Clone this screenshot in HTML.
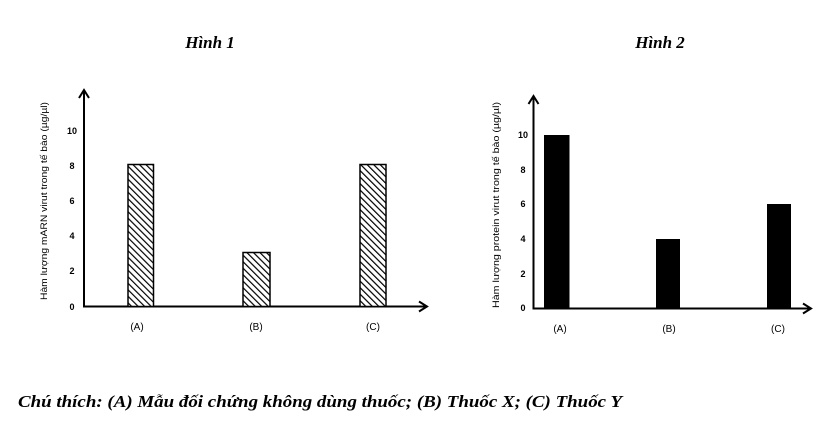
<!DOCTYPE html>
<html><head><meta charset="utf-8">
<style>
html,body{margin:0;padding:0;background:#fff;}
svg{display:block;}
</style></head>
<body>
<svg width="826" height="435" viewBox="0 0 826 435" xmlns="http://www.w3.org/2000/svg">
<defs>
<pattern id="hatch" patternUnits="userSpaceOnUse" width="4.6" height="4.6" patternTransform="rotate(-45)">
<rect width="4.6" height="4.6" fill="#fff"/>
<line x1="0" y1="0" x2="0" y2="4.6" stroke="#000" stroke-width="2.4"/>
</pattern>
</defs>
<rect width="826" height="435" fill="#fff"/>

<!-- Titles -->
<text x="210" y="48" font-family="Liberation Serif, serif" font-weight="bold" font-style="italic" font-size="17" text-anchor="middle">Hình 1</text>
<text x="660" y="48" font-family="Liberation Serif, serif" font-weight="bold" font-style="italic" font-size="17" text-anchor="middle">Hình 2</text>

<!-- Chart 1 -->
<g font-family="Liberation Sans, sans-serif" fill="#000">
<line x1="84" y1="90" x2="84" y2="307" stroke="#000" stroke-width="2"/>
<polyline points="79,98 84,90 89,98" fill="none" stroke="#000" stroke-width="2"/>
<line x1="83" y1="306.5" x2="427" y2="306.5" stroke="#000" stroke-width="2"/>
<polyline points="419,301.5 427,306.5 419,311.5" fill="none" stroke="#000" stroke-width="2"/>
<g font-size="9" font-weight="bold" text-anchor="middle">
<text x="72" y="134">10</text>
<text x="72" y="169">8</text>
<text x="72" y="204">6</text>
<text x="72" y="239">4</text>
<text x="72" y="274">2</text>
<text x="72" y="310">0</text>
</g>
<rect x="128" y="164.5" width="25.5" height="142" fill="url(#hatch)" stroke="#000" stroke-width="1.5"/>
<rect x="243" y="252.5" width="27" height="54" fill="url(#hatch)" stroke="#000" stroke-width="1.5"/>
<rect x="360" y="164.5" width="26" height="142" fill="url(#hatch)" stroke="#000" stroke-width="1.5"/>
<g font-size="10" text-anchor="middle">
<text x="137" y="330">(A)</text>
<text x="256" y="330">(B)</text>
<text x="373" y="330">(C)</text>
</g>
<text transform="translate(47,201) rotate(-90)" font-size="9" text-anchor="middle" textLength="198" lengthAdjust="spacingAndGlyphs">Hàm lượng mARN virut trong tế bào (µg/µl)</text>
</g>

<!-- Chart 2 -->
<g font-family="Liberation Sans, sans-serif" fill="#000">
<line x1="533.5" y1="96" x2="533.5" y2="309" stroke="#000" stroke-width="2"/>
<polyline points="528.5,104 533.5,96 538.5,104" fill="none" stroke="#000" stroke-width="2"/>
<line x1="532.5" y1="308.5" x2="811" y2="308.5" stroke="#000" stroke-width="2"/>
<polyline points="803,303.5 811,308.5 803,313.5" fill="none" stroke="#000" stroke-width="2"/>
<g font-size="9" font-weight="bold" text-anchor="middle">
<text x="523" y="138">10</text>
<text x="523" y="173">8</text>
<text x="523" y="207">6</text>
<text x="523" y="242">4</text>
<text x="523" y="277">2</text>
<text x="523" y="311">0</text>
</g>
<rect x="544" y="135" width="25.5" height="173.5" fill="#000"/>
<rect x="656" y="239" width="24" height="69.5" fill="#000"/>
<rect x="767" y="204" width="24" height="104.5" fill="#000"/>
<g font-size="10" text-anchor="middle">
<text x="560" y="332">(A)</text>
<text x="669" y="332">(B)</text>
<text x="778" y="332">(C)</text>
</g>
<text transform="translate(499,205) rotate(-90)" font-size="9" text-anchor="middle" textLength="206" lengthAdjust="spacingAndGlyphs">Hàm lượng protein virut trong tế bào (µg/µl)</text>
</g>

<!-- Caption -->
<text x="18" y="407" font-family="Liberation Serif, serif" font-weight="bold" font-style="italic" font-size="17" textLength="604" lengthAdjust="spacingAndGlyphs">Chú thích: (A) Mẫu đối chứng không dùng thuốc; (B) Thuốc X; (C) Thuốc Y</text>
</svg>
</body></html>
